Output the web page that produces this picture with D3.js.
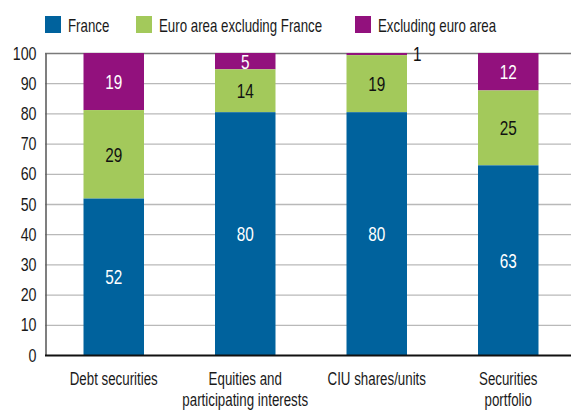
<!DOCTYPE html>
<html>
<head>
<meta charset="utf-8">
<script src="https://cdn.jsdelivr.net/npm/d3@7"></script>
<style>
  body { margin: 0; background: #fff; }
  svg { display: block; font-family: "Liberation Sans", Arial, sans-serif; }
</style>
</head>
<body>
<svg id="chart" width="571" height="410"></svg>
<script>
// categories and series (percentages)
const categories = ["Debt securities", "Equities and\nparticipating interests", "CIU shares/units", "Securities\nportfolio"];
const seriesNames = ["France", "Euro area excluding France", "Excluding euro area"];
const france = [51.8, 80.4, 80.4, 62.8];
const euroExFrance = [29.3, 14.2, 18.9, 24.8];
const exEuro = [18.9, 5.4, 0.7, 12.4];
const yTicks = [0, 10, 20, 30, 40, 50, 60, 70, 80, 90, 100];

const colors = ["#00629d", "#a3c95b", "#92117d"];
const labelColors = ["#fff", "#111", "#fff"];

const svg = d3.select("#chart");
const width = 571;

// no condensed font installed, so squeeze text horizontally
function squeeze(sel, sx) {
    sel.each(function() {
        const t = d3.select(this);
        const x0 = +t.attr("x") || 0;
        t.attr("x", x0 / sx).attr("transform", `scale(${sx},1)`);
        t.selectAll("tspan").attr("x", x0 / sx);
    });
}

const x = d3.scaleBand()
    .domain(categories)
    .range([48, 574])
    .paddingInner(0.54)
    .paddingOuter(0.27);

const y = d3.scaleLinear()
    .domain([0, 100])
    .range([355, 53]);

// rows for the stack
const rows = categories.map((c, i) => ({
    cat: c,
    "France": france[i],
    "Euro area excluding France": euroExFrance[i],
    "Excluding euro area": exEuro[i]
}));
const stacked = d3.stack().keys(seriesNames)(rows);

// gridlines
svg.append("g")
    .selectAll("line")
    .data(yTicks.filter(t => t > 0))
    .enter()
    .append("line")
    .attr("x1", 45)
    .attr("x2", width)
    .attr("y1", d => y(d) + 0.5)
    .attr("y2", d => y(d) + 0.5)
    .attr("stroke", d => d == 100 ? "#7a7a7a" : "#b9b9b9")
    .attr("stroke-width", d => d == 100 ? 1.5 : 1.3);

// y axis
const yAxis = svg.append("g")
    .attr("transform", "translate(45.5,0)")
    .call(d3.axisLeft(y).tickValues(yTicks).tickSize(0).tickPadding(9));
yAxis.select(".domain").attr("stroke", "#555").attr("stroke-width", 1.5);
yAxis.selectAll("text")
    .attr("font-size", 19)
    .attr("fill", "#1a1a1a")
    .attr("font-family", null)
    .call(squeeze, 0.75);

// bars, drawn top series first so lower segments sit on top
const layers = svg.append("g")
    .selectAll("g")
    .data(stacked.slice().reverse())
    .enter()
    .append("g");

layers.selectAll("rect")
    .data(d => d)
    .enter()
    .append("rect")
    .attr("x", d => x(d.data.cat))
    .attr("width", x.bandwidth())
    .attr("y", d => y(d[1]))
    .attr("height", d => y(d[0]) - y(d[1]))
    .attr("fill", function() { return colors[d3.select(this.parentNode).datum().index]; });

layers.each(function(layer) {
    const k = layer.index;
    d3.select(this).selectAll("text")
        .data(layer)
        .enter()
        .append("text")
        .attr("x", d => (d[1] - d[0]) < 3 ? x(d.data.cat) + x.bandwidth() + 6 : x(d.data.cat) + x.bandwidth() / 2)
        .attr("y", d => (d[1] - d[0]) < 3 ? y(d[1]) : y((d[0] + d[1]) / 2))
        .attr("dy", "0.36em")
        .attr("text-anchor", d => (d[1] - d[0]) < 3 ? "start" : "middle")
        .attr("font-size", 21)
        .attr("fill", d => (d[1] - d[0]) < 3 ? "#111" : labelColors[k])
        .text(d => Math.round(d[1] - d[0]))
        .call(squeeze, 0.73);
});

// zero line
svg.append("line")
    .attr("x1", 45)
    .attr("x2", width)
    .attr("y1", y(0) + 0.5)
    .attr("y2", y(0) + 0.5)
    .attr("stroke", "#111")
    .attr("stroke-width", 1.8);

// category labels
const xLabels = svg.append("g")
    .selectAll("text")
    .data(categories)
    .enter()
    .append("text")
    .attr("x", d => x(d) + x.bandwidth() / 2)
    .attr("y", 385)
    .attr("text-anchor", "middle")
    .attr("font-size", 18.5)
    .attr("fill", "#1a1a1a");
xLabels.selectAll("tspan")
    .data(d => d.split("\n"))
    .enter()
    .append("tspan")
    .attr("x", function() { return d3.select(this.parentNode).attr("x"); })
    .attr("dy", (d, i) => i == 0 ? 0 : 21)
    .text(d => d);
xLabels.call(squeeze, 0.72);

// legend
const legendX = [45, 136, 355];
const legend = svg.append("g")
    .selectAll("g")
    .data(seriesNames)
    .enter()
    .append("g")
    .attr("transform", (d, i) => `translate(${legendX[i]},16)`);
legend.append("rect")
    .attr("width", 16)
    .attr("height", 17)
    .attr("fill", (d, i) => colors[i]);
legend.append("text")
    .attr("x", 23)
    .attr("y", 9)
    .attr("dy", "0.36em")
    .attr("font-size", 19)
    .attr("fill", "#1a1a1a")
    .text(d => d)
    .call(squeeze, 0.7);
</script>
</body>
</html>
